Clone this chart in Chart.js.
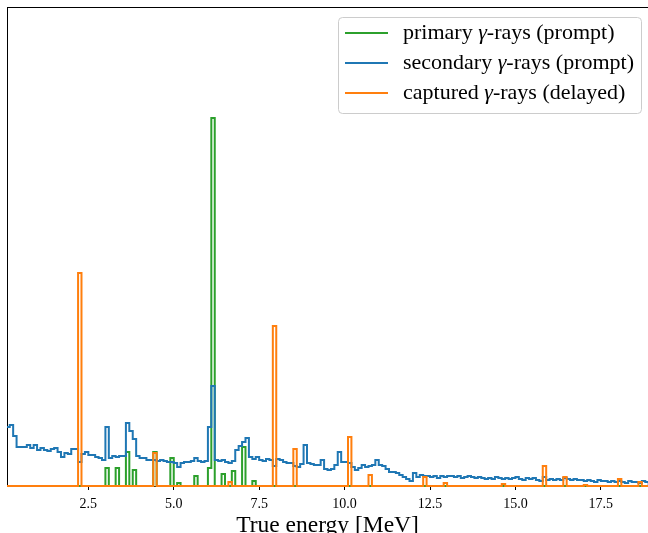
<!DOCTYPE html>
<html>
<head>
<meta charset="utf-8">
<script src="https://cdn.jsdelivr.net/npm/chart.js@4.4.1/dist/chart.umd.min.js"></script>
<style>
  body { margin: 0; background: #fff; }
  #wrap { width: 648px; height: 533px; }
</style>
</head>
<body>
<div id="wrap"><canvas id="myChart" width="648" height="533"></canvas></div>
<script>
// histogram bins: 0.1 MeV wide, starting at 0.1 MeV
const binStart = 0.1;
const binWidth = 0.1;

// secondary gamma-rays (prompt), one value per bin
const secondary = [
  59, 61, 50, 39, 39, 39, 41, 38, 41,
  36, 38, 36, 35, 37, 38, 34, 29, 33, 32,
  37, 37, 24, 32, 34, 31, 31, 29, 28, 26,
  59, 28, 30, 29, 30, 30, 63, 55, 47, 30,
  28, 28, 26, 26, 26, 25, 26, 25, 24, 24,
  23, 19, 23, 24, 24, 25, 28, 25, 24, 25,
  59, 100, 26, 25, 26, 24, 23, 25, 36, 40,
  44, 48, 29, 27, 29, 26, 25, 27, 26, 20,
  27, 26, 24, 23, 23, 20, 19, 22, 41, 23,
  22, 21, 21, 26, 17, 16, 17, 21, 34, 24,
  24, 23, 19, 16, 18, 21, 19, 20, 21, 26,
  21, 20, 17, 14, 14, 13, 11, 9, 7, 5,
  13, 9, 11, 10, 10, 9, 10, 8, 10, 9,
  10, 10, 9, 10, 8, 9, 10, 9, 8, 9,
  8, 7, 8, 7, 9, 8, 7, 8, 7, 8,
  9, 7, 6, 8, 7, 8, 6, 5, 9, 6,
  7, 6, 7, 6, 8, 7, 6, 7, 6, 6,
  5, 6, 5, 4, 6, 5, 5, 4, 5, 4,
  5, 4, 3, 5, 4, 4, 3, 5, 4
];

// primary gamma-rays (prompt): bin start energy and count, other bins empty
const primaryBins   = [3.0, 3.3, 3.6, 3.8, 4.4, 4.9, 5.1, 5.6, 6.0, 6.1, 6.4, 6.7, 7.0, 7.3];
const primaryCounts = [18, 18, 34, 16, 34, 28, 3, 10, 18, 368, 12, 15, 39, 5];

// captured gamma-rays (delayed)
const capturedBins   = [2.2, 4.4, 6.6, 7.9, 8.5, 10.1, 10.7, 12.3, 12.9, 14.6, 15.8, 16.4, 17.0, 18.0, 18.6];
const capturedCounts = [213, 33, 4, 160, 37, 49, 11, 9, 3, 2, 20, 9, 1, 7, 4];

const xTicks = [2.5, 5.0, 7.5, 10.0, 12.5, 15.0, 17.5];
const legendLabels = ['primary γ-rays (prompt)', 'secondary γ-rays (prompt)', 'captured γ-rays (delayed)'];
const colors = ['#2ca02c', '#1f77b4', '#ff7f0e'];

const nBins = secondary.length;

function fromPeaks(bins, counts) {
  const arr = new Array(nBins).fill(0);
  bins.forEach((e, k) => { arr[Math.round((e - binStart) / binWidth)] = counts[k]; });
  return arr;
}

function stepPoints(counts) {
  const pts = [{x: binStart, y: 0}];
  counts.forEach((c, i) => pts.push({x: binStart + i * binWidth, y: c}));
  pts.push({x: binStart + counts.length * binWidth, y: 0});
  return pts;
}

function histSet(label, counts, color) {
  return {
    label: label,
    data: stepPoints(counts),
    borderColor: color,
    borderWidth: 2,
    pointRadius: 0,
    stepped: 'before',
    fill: false,
    clip: {left: 0, top: 0, right: 0, bottom: 3}
  };
}

const serif = '"Liberation Serif", "DejaVu Serif", serif';

// legend box drawn inside the plot, upper right
const legendBox = {
  id: 'legendBox',
  afterDraw(chart) {
    const ctx = chart.ctx;
    ctx.save();
    ctx.beginPath();
    ctx.roundRect(338.5, 17.5, 303, 96, 4);
    ctx.fillStyle = 'rgba(255,255,255,0.8)';
    ctx.fill();
    ctx.strokeStyle = '#cccccc';
    ctx.lineWidth = 1;
    ctx.stroke();
    legendLabels.forEach((txt, i) => {
      const y = 33 + i * 30;
      ctx.beginPath();
      ctx.moveTo(345, y);
      ctx.lineTo(388, y);
      ctx.strokeStyle = colors[i];
      ctx.lineWidth = 2;
      ctx.stroke();
      const parts = txt.split('γ');
      ctx.fillStyle = '#000';
      ctx.textBaseline = 'middle';
      let x = 403;
      ctx.font = '22px ' + serif;
      ctx.fillText(parts[0], x, y);
      x += ctx.measureText(parts[0]).width;
      ctx.font = 'italic 22px ' + serif;
      ctx.fillText('γ', x, y);
      x += ctx.measureText('γ').width;
      ctx.font = '22px ' + serif;
      ctx.fillText(parts[1], x, y);
    });
    ctx.restore();
  }
};

document.addEventListener('DOMContentLoaded', function() {
  const ctx = document.getElementById('myChart').getContext('2d');
  new Chart(ctx, {
    type: 'line',
    data: {
      datasets: [
        histSet(legendLabels[2], fromPeaks(capturedBins, capturedCounts), colors[2]),
        histSet(legendLabels[1], secondary, colors[1]),
        histSet(legendLabels[0], fromPeaks(primaryBins, primaryCounts), colors[0])
      ]
    },
    options: {
      responsive: false,
      animation: false,
      layout: { padding: { left: 7, top: 7, right: 0, bottom: 0 } },
      plugins: { legend: { display: false }, tooltip: { enabled: false } },
      scales: {
        x: {
          type: 'linear',
          position: 'bottom',
          min: 0.12,
          max: 18.88,
          afterBuildTicks: function(scale) {
            scale.ticks = xTicks.map(v => ({value: v}));
          },
          afterFit: function(scale) { scale.height = 47; },
          ticks: {
            color: '#000',
            padding: 6,
            maxRotation: 0,
            autoSkip: false,
            font: { family: serif, size: 14 },
            callback: v => v.toFixed(1)
          },
          grid: { drawOnChartArea: false, tickLength: 4, color: '#000' },
          border: { color: '#000', width: 1 },
          title: {
            display: true,
            text: 'True energy [MeV]',
            color: '#000',
            padding: 0,
            font: { family: serif, size: 23.5, lineHeight: 0.6 }
          }
        },
        x2: {
          type: 'linear',
          position: 'top',
          min: 0,
          max: 1,
          afterFit: function(scale) { scale.height = 0; },
          ticks: { display: false },
          grid: { display: false },
          border: { color: '#000', width: 1 }
        },
        y: {
          min: 0,
          max: 479,
          afterFit: function(scale) { scale.width = 0; },
          ticks: { display: false },
          grid: { display: false },
          border: { color: '#000', width: 1 }
        }
      }
    },
    plugins: [legendBox]
  });
});
</script>
</body>
</html>
